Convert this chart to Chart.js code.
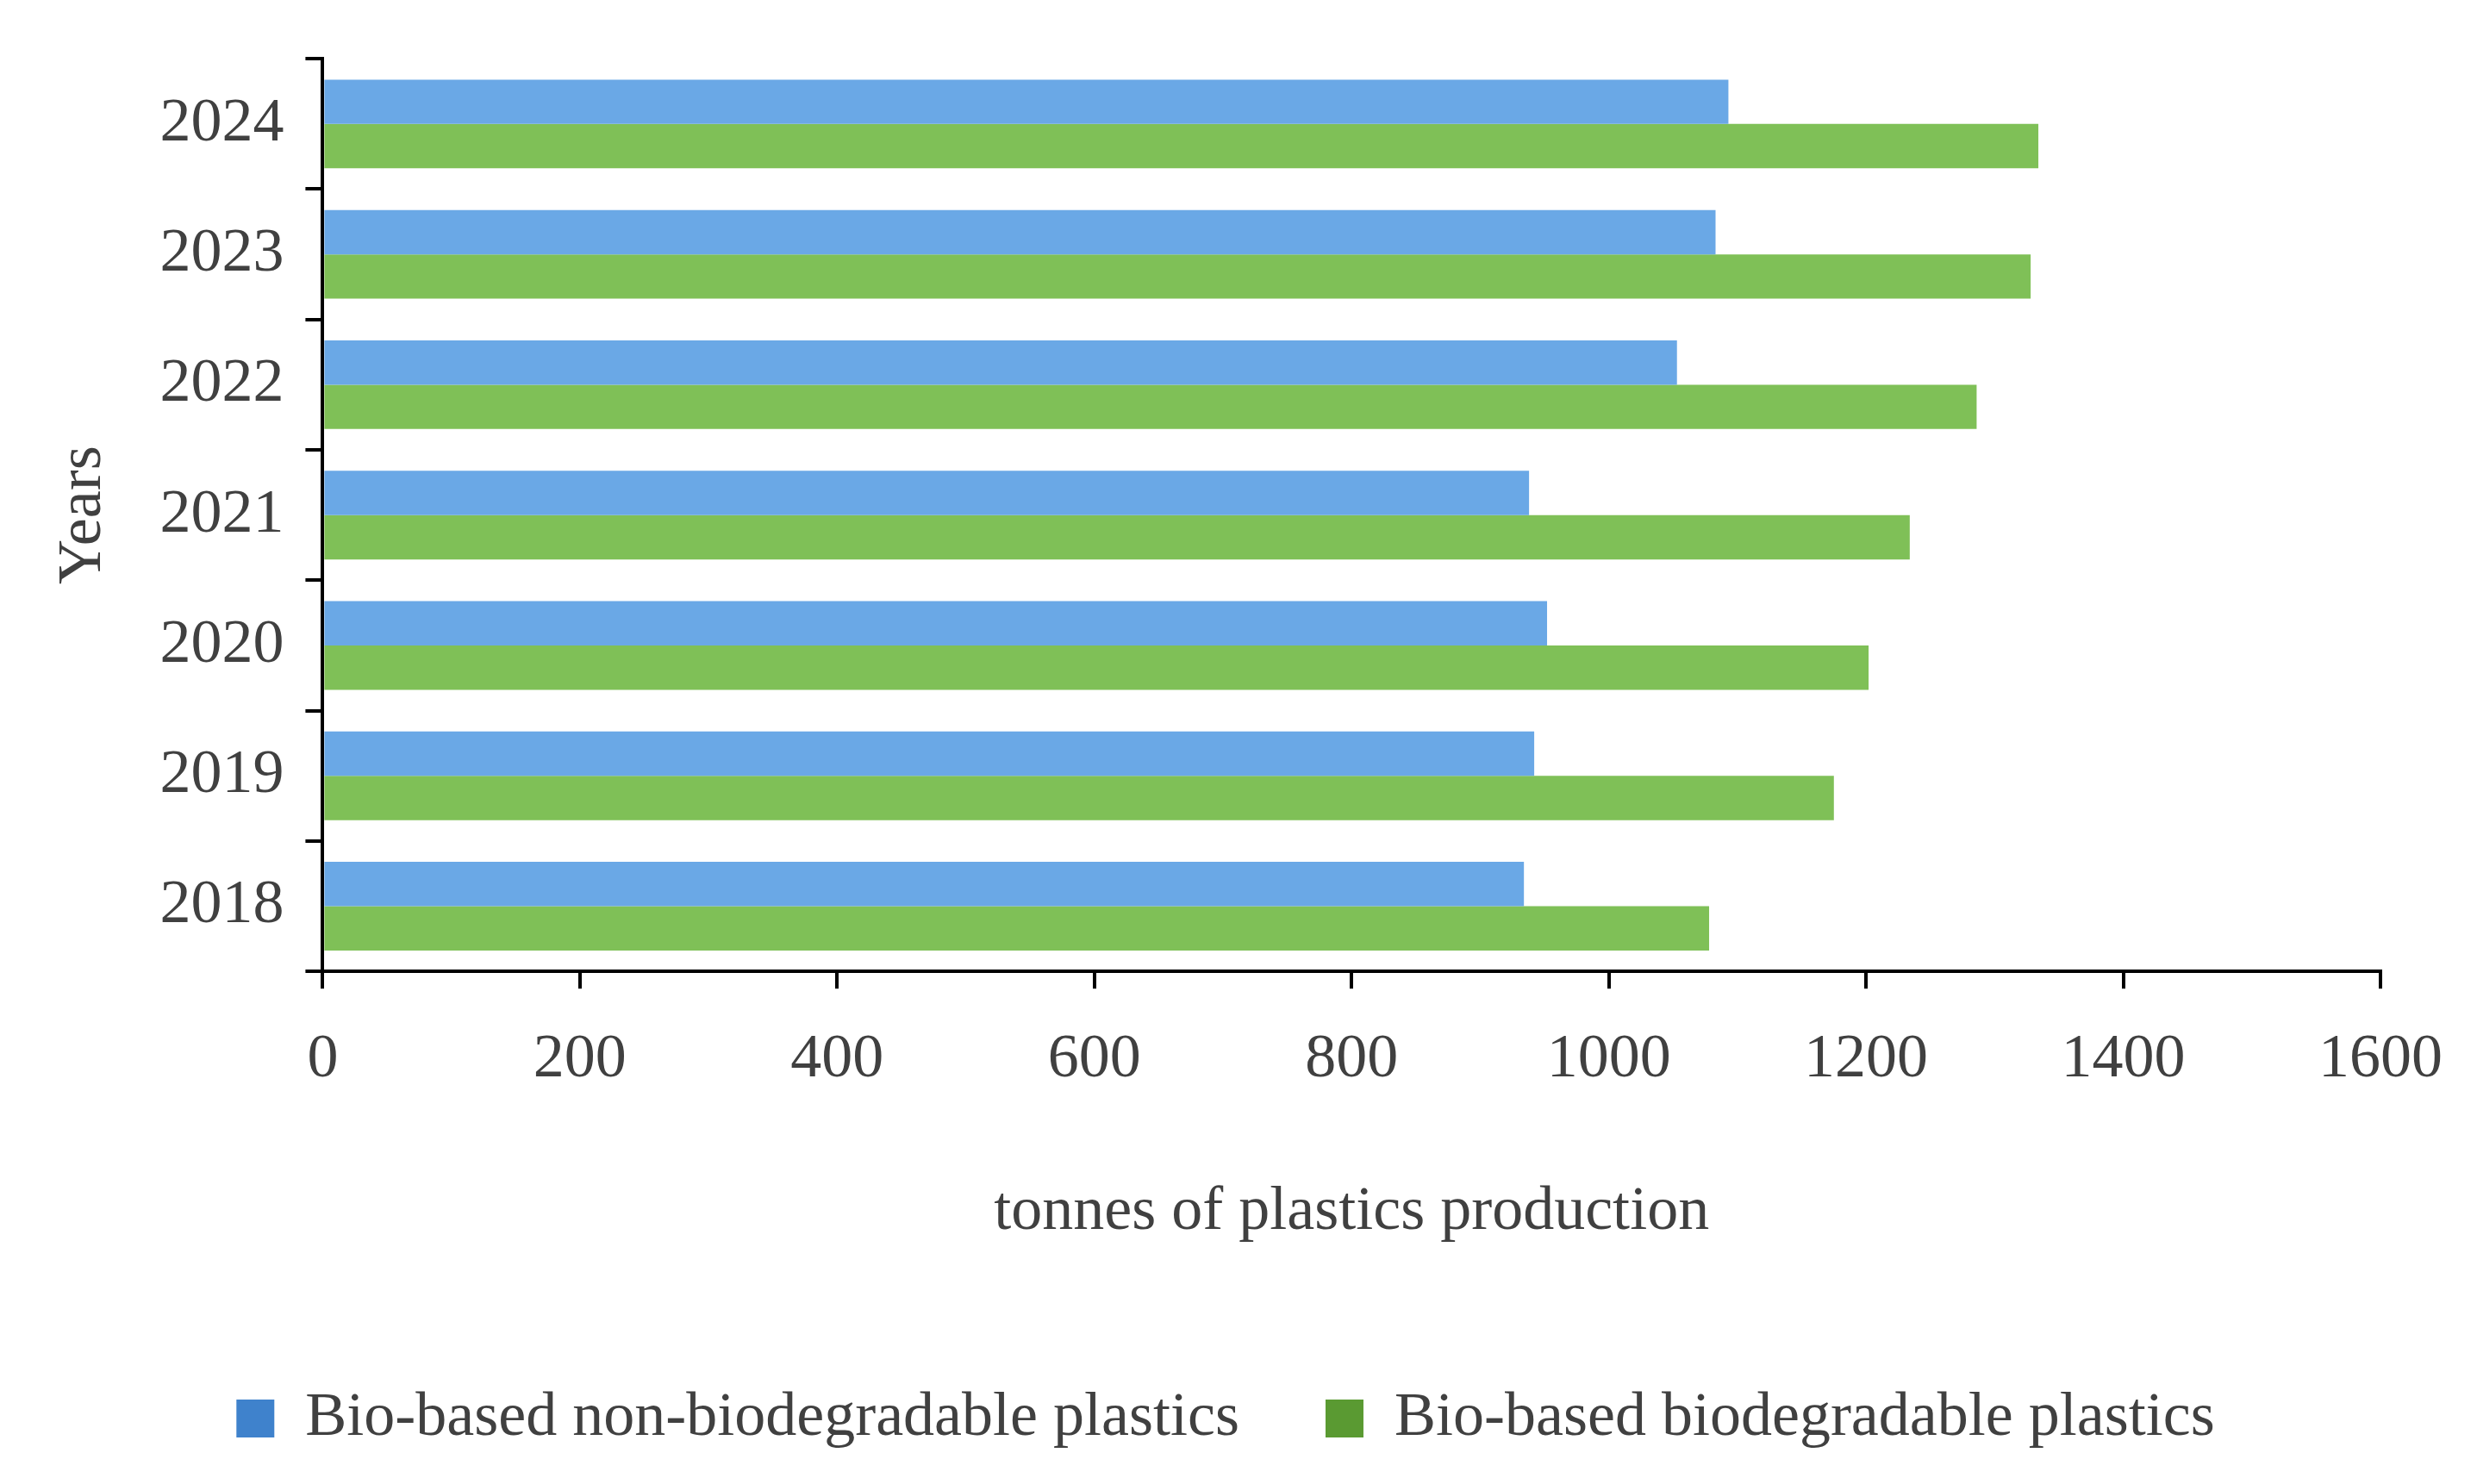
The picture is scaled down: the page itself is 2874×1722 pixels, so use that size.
<!DOCTYPE html>
<html><head><meta charset="utf-8">
<script src="https://cdn.jsdelivr.net/npm/chart.js@4/dist/chart.umd.min.js"></script>
<style>html,body{margin:0;padding:0;background:#fff}</style></head>
<body><canvas id="c" width="2874" height="1722"></canvas>
<script>
const years = ["2024","2023","2022","2021","2020","2019","2018"];
const nonBiodegradable = [1093,1083,1053,938,952,942,934];
const biodegradable = [1334,1328,1286,1234,1202,1175,1078];
const xTicks = [0,200,400,600,800,1000,1200,1400,1600];
const FONT = "'Liberation Serif', serif";
const txt = '#404040';
function grad(ctx, c1, c2){
  const ch = ctx.chart; const a = ch.chartArea; if(!a) return c1;
  const el = ctx.element; if(!el || el.y===undefined) return c1;
  const h = el.height||50;
  const g = ch.ctx.createLinearGradient(0, el.y-h/2, 0, el.y+h/2);
  g.addColorStop(0,c1); g.addColorStop(1,c2); return g;
}
new Chart(document.getElementById('c'),{
  type:'bar',
  data:{labels:years,datasets:[
    {label:'Bio-based non-biodegradable plastics',data:nonBiodegradable,backgroundColor:c=>grad(c,'#6aa8e6','#3f82cc')},
    {label:'Bio-based biodegradable plastics',data:biodegradable,backgroundColor:c=>grad(c,'#7fc057','#5a9a32')}
  ]},
  options:{
    indexAxis:'y',responsive:false,animation:false,devicePixelRatio:1,
    categoryPercentage:0.68,barPercentage:1,
    layout:{padding:{left:50,right:80,top:62,bottom:30}},
    plugins:{
      legend:{position:'bottom',labels:{font:{family:FONT,size:72},color:txt,boxWidth:44,boxHeight:44,padding:100},
        onClick:null},
      tooltip:{enabled:false}
    },
    scales:{
      x:{min:0,max:1600,afterBuildTicks:a=>{a.ticks=xTicks.map(v=>({value:v}));},
        grid:{drawOnChartArea:false,drawTicks:true,tickLength:20,color:'#000',lineWidth:4},
        border:{color:'#000',width:4},
        ticks:{font:{family:FONT,size:72},color:txt,padding:40,callback:v=>String(v)},
        title:{display:true,text:'tonnes of plastics production',font:{family:FONT,size:72},color:txt,padding:{top:50,bottom:60}}},
      y:{grid:{offset:true,drawOnChartArea:false,tickLength:20,color:'#000',lineWidth:4},
        border:{color:'#000',width:4},
        ticks:{font:{family:FONT,size:72},color:txt,padding:25},
        title:{display:true,text:'Years',font:{family:FONT,size:72},color:txt,padding:{bottom:20}}}
    }
  }
});
</script></body></html>
